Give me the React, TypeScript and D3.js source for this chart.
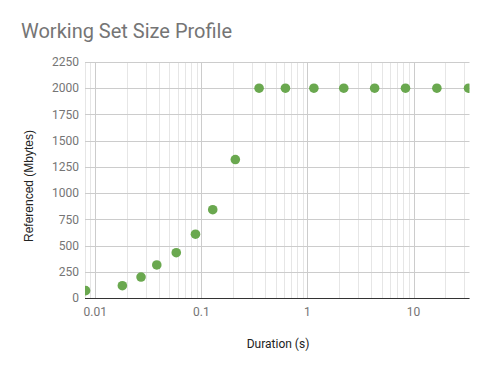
import React from "react";
import * as d3 from "d3";

const durations = [0.0081, 0.018, 0.027, 0.038, 0.058, 0.088, 0.128, 0.209, 0.35, 0.62, 1.15, 2.2, 4.3, 8.4, 16.6, 33];
const referenced = [70, 117, 200, 315, 432, 608, 842, 1320, 2000, 2000, 2000, 2000, 2000, 2000, 2000, 2000];
const yTicks = [0, 250, 500, 750, 1000, 1250, 1500, 1750, 2000, 2250];
const xMajorTicks = [0.01, 0.1, 1, 10];
const xTickLabels = ["0.01", "0.1", "1", "10"];

const W = 488, H = 371;
const left = 85, right = 469.5, top = 62, bottom = 298;

export default function App() {
  const x = d3.scaleLog().domain([0.008, 33.7]).range([left, right]);
  const y = d3.scaleLinear().domain([0, 2250]).range([bottom, top]);
  const minor: number[] = [];
  for (let e = -3; e <= 1; e++) {
    for (let m = 2; m <= 9; m++) {
      const v = m * Math.pow(10, e);
      if (v >= 0.008 && v <= 33.7) minor.push(v);
    }
  }
  const font = "Roboto, Arial, sans-serif";
  return (
    <svg width={W} height={H} style={{ position: "absolute", left: 0, top: 0 }} fontFamily={font}>
      <rect width={W} height={H} fill="#fff" />
      <text x={21} y={38} fontSize={20} fill="#757575">Working Set Size Profile</text>
      <defs>
        <clipPath id="plot">
          <rect x={left} y={top - 10} width={right - left} height={bottom - top + 20} />
        </clipPath>
      </defs>
      {minor.map((v, i) => (
        <line key={"mi" + i} x1={Math.round(x(v)) + 0.5} x2={Math.round(x(v)) + 0.5} y1={top} y2={bottom} stroke="#e6e6e6" />
      ))}
      {xMajorTicks.map((v, i) => (
        <line key={"ma" + i} x1={Math.round(x(v)) + 0.5} x2={Math.round(x(v)) + 0.5} y1={top} y2={bottom} stroke="#cccccc" />
      ))}
      {yTicks.map((v, i) => (
        <line key={"h" + i} x1={left} x2={right} y1={Math.round(y(v)) + 0.5} y2={Math.round(y(v)) + 0.5} stroke="#cccccc" />
      ))}
      <line x1={left} x2={right} y1={bottom + 0.5} y2={bottom + 0.5} stroke="#333333" />
      {yTicks.map((v, i) => (
        <text key={"yl" + i} x={79} y={y(v)} dy="0.35em" textAnchor="end" fontSize={12} fill="#757575">{v}</text>
      ))}
      {xMajorTicks.map((v, i) => (
        <text key={"xl" + i} x={x(v)} y={316} textAnchor="middle" fontSize={12} fill="#757575">{xTickLabels[i]}</text>
      ))}
      <g clipPath="url(#plot)">
        {durations.map((d, i) => (
          <circle key={"p" + i} cx={x(d)} cy={y(referenced[i])} r={4.8} fill="#6aa84f" />
        ))}
      </g>
      <text x={278} y={348} textAnchor="middle" fontSize={12} fill="#222222">Duration (s)</text>
      <text transform={`translate(33,186) rotate(-90)`} textAnchor="middle" fontSize={12} fill="#222222" fontFamily="Arial, 'Liberation Sans', sans-serif">Referenced (Mbytes)</text>
    </svg>
  );
}
